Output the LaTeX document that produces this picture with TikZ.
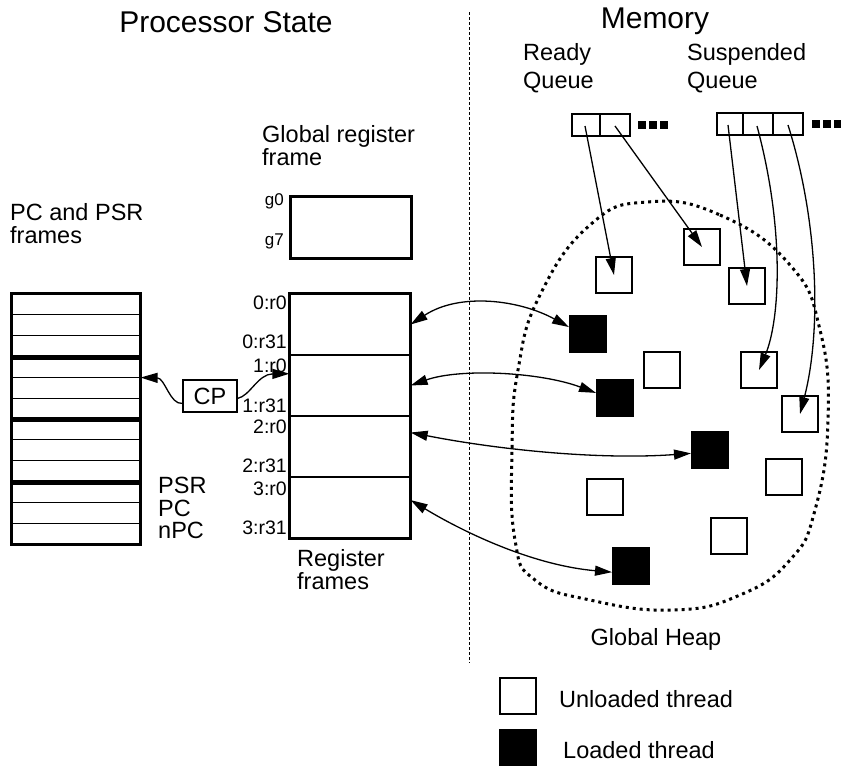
\documentclass[tikz,border=0pt]{standalone}
\usepackage{fontspec}
\setmainfont{Liberation Sans}
\usetikzlibrary{arrows.meta}

\tikzset{
  headline/.style={font=\fontsize{30}{36}\selectfont, inner sep=0pt},
  lbl/.style={font=\fontsize{23.5}{28}\selectfont, inner sep=0pt, anchor=base west},
  reglbl/.style={font=\fontsize{19.5}{23}\selectfont, inner sep=0pt, anchor=base east},
  unloaded/.style={draw, line width=2pt, minimum size=36pt, inner sep=0pt},
  loaded/.style={unloaded, fill=black},
  regframe/.style={draw, line width=1.2pt, minimum width=120pt, minimum height=61pt, inner sep=0pt},
  psrframe/.style={draw, line width=1.2pt, minimum width=128pt, minimum height=62.5pt, inner sep=0pt},
  link/.style={line width=1.3pt, >={Triangle[length=17pt,width=10pt]}},
  heap/.style={line width=3pt, dash pattern=on 3pt off 4pt},
}

\begin{document}
\begin{tikzpicture}[x=1pt,y=-1pt]
\useasboundingbox (0,0) rectangle (841,766);
\node[headline, anchor=base] (proc) at (226,32) {Processor State};
\node[headline, anchor=base] (mem) at (655,28) {Memory};
\draw[line width=1pt, dash pattern=on 3pt off 2pt] (469,12) -- (469,663);

\node[lbl] (ready1) at (523,60) {Ready};
\node[lbl] (ready2) at (523,88) {Queue};
\node[lbl] (susp1) at (687,60) {Suspended};
\node[lbl] (susp2) at (687,88) {Queue};
\node[draw, line width=2pt, minimum width=58pt, minimum height=22pt, inner sep=0pt] (rq) at (601,125) {};
\draw[line width=1.5pt] (600,114) -- (600,136);
\node[draw, line width=2pt, minimum width=86pt, minimum height=22pt, inner sep=0pt] (sq) at (760,124) {};
\draw[line width=1.5pt] (743,113) -- (743,135);
\draw[line width=1.5pt] (773,113) -- (773,135);
\foreach \k in {0,1,2} {
  \fill (638+11*\k,121) rectangle ++(7.5,7.5);
  \fill (812+11*\k,120) rectangle ++(7.5,7.5);
}
\coordinate (rq1) at (585,126);
\coordinate (rq2) at (615,126);
\coordinate (sq1) at (728,125);
\coordinate (sq2) at (757,126);
\coordinate (sq3) at (788,125);

\draw[heap] plot[smooth cycle, tension=0.8] coordinates {(647,202) (720,215) (790,265) (820,330) (828,420) (815,510) (790,560) (740,595) (673,610) (590,600) (535,580) (515,540) (512,450) (518,370) (540,295) (590,225)};
\node[lbl, anchor=base] (heaplbl) at (656,645) {Global Heap};

\node[unloaded] (w1) at (614,275) {};
\node[unloaded] (w2) at (702,247) {};
\node[unloaded] (w3) at (747,286) {};
\node[unloaded] (w4) at (662,370) {};
\node[unloaded] (w5) at (759,370) {};
\node[unloaded] (w6) at (800,414) {};
\node[unloaded] (w7) at (784,477) {};
\node[unloaded] (w8) at (605,497) {};
\node[unloaded] (w9) at (729,536) {};
\node[loaded] (b1) at (588,334) {};
\node[loaded] (b2) at (615,398) {};
\node[loaded] (b3) at (710,450) {};
\node[loaded] (b4) at (631,566) {};

\draw[link, ->] (rq1) -- (w1.center);
\draw[link, ->] (rq2) -- (w2.center);
\draw[link, ->] (sq1) -- (w3.center);
\draw[link, ->] (sq2) .. controls (785,230) and (780,320) .. (w5.center);
\draw[link, ->] (sq3) .. controls (818,220) and (822,330) .. (w6.center);

\node[lbl] (glob1) at (262,142) {Global register};
\node[lbl] (glob2) at (262,165) {frame};
\node[draw, line width=3pt, minimum width=121pt, minimum height=62pt, inner sep=0pt] (gbox) at (350.5,227) {};
\node[reglbl, font=\fontsize{17}{20}\selectfont] (g0) at (284,205) {g0};
\node[reglbl, font=\fontsize{17}{20}\selectfont] (g7) at (284,245) {g7};

\foreach \i in {0,...,3}
  \node[regframe] (rf\i) at (350,324.5+61*\i) {};
\draw[line width=3pt] (rf0.north west) rectangle (rf3.south east);
\node[reglbl] (l0a) at (287,309) {0:r0};
\node[reglbl] (l0b) at (287,348) {0:r31};
\node[reglbl] (l1a) at (287,372) {1:r0};
\node[reglbl] (l1b) at (287,412) {1:r31};
\node[reglbl] (l2a) at (287,433) {2:r0};
\node[reglbl] (l2b) at (287,472) {2:r31};
\node[reglbl] (l3a) at (287,495) {3:r0};
\node[reglbl] (l3b) at (287,534) {3:r31};
\node[lbl] (regs1) at (297,566) {Register};
\node[lbl] (regs2) at (297,589) {frames};

\node[lbl] (psr1) at (10,220) {PC and PSR};
\node[lbl] (psr2) at (10,243) {frames};
\foreach \i in {0,...,3} {
  \node[psrframe] (pf\i) at (76,325.25+62.5*\i) {};
  \draw[line width=1.2pt] (12,294+62.5*\i+20.8) -- (140,294+62.5*\i+20.8);
  \draw[line width=1.2pt] (12,294+62.5*\i+41.6) -- (140,294+62.5*\i+41.6);
}
\draw[line width=5pt] (pf0.south west) -- (pf0.south east);
\draw[line width=5pt] (pf1.south west) -- (pf1.south east);
\draw[line width=5pt] (pf2.south west) -- (pf2.south east);
\draw[line width=3pt] (pf0.north west) rectangle (pf3.south east);
\node[lbl] (psrl) at (158,493) {PSR};
\node[lbl] (pcl) at (158,516) {PC};
\node[lbl] (npcl) at (158,538) {nPC};

\node[draw, line width=1.2pt, font=\fontsize{23.5}{28}\selectfont, minimum width=54pt, minimum height=32pt, inner sep=0pt] (cp) at (210,396) {CP};
\draw[link, ->] (cp.195) .. controls (170,405) and (165,378) .. (pf1.9);
\draw[link, ->] (cp.355) .. controls (250,396) and (258,374) .. (rf1.169);

\draw[link, <->] (rf0.east) .. controls (460,292) and (520,300) .. (b1.160);
\draw[link, <->] (rf1.east) .. controls (460,368) and (540,372) .. (b2.165);
\draw[link, <->] (rf2.13) .. controls (500,450) and (600,460) .. (b3.190);
\draw[link, <->] (rf3.7) .. controls (460,530) and (530,565) .. (b4.198);

\node[unloaded] (keyw) at (517.5,696) {};
\node[loaded] (keyb) at (517.5,747.5) {};
\node[lbl] (keywl) at (559,707) {Unloaded thread};
\node[lbl] (keybl) at (563,758) {Loaded thread};
\end{tikzpicture}
\end{document}
